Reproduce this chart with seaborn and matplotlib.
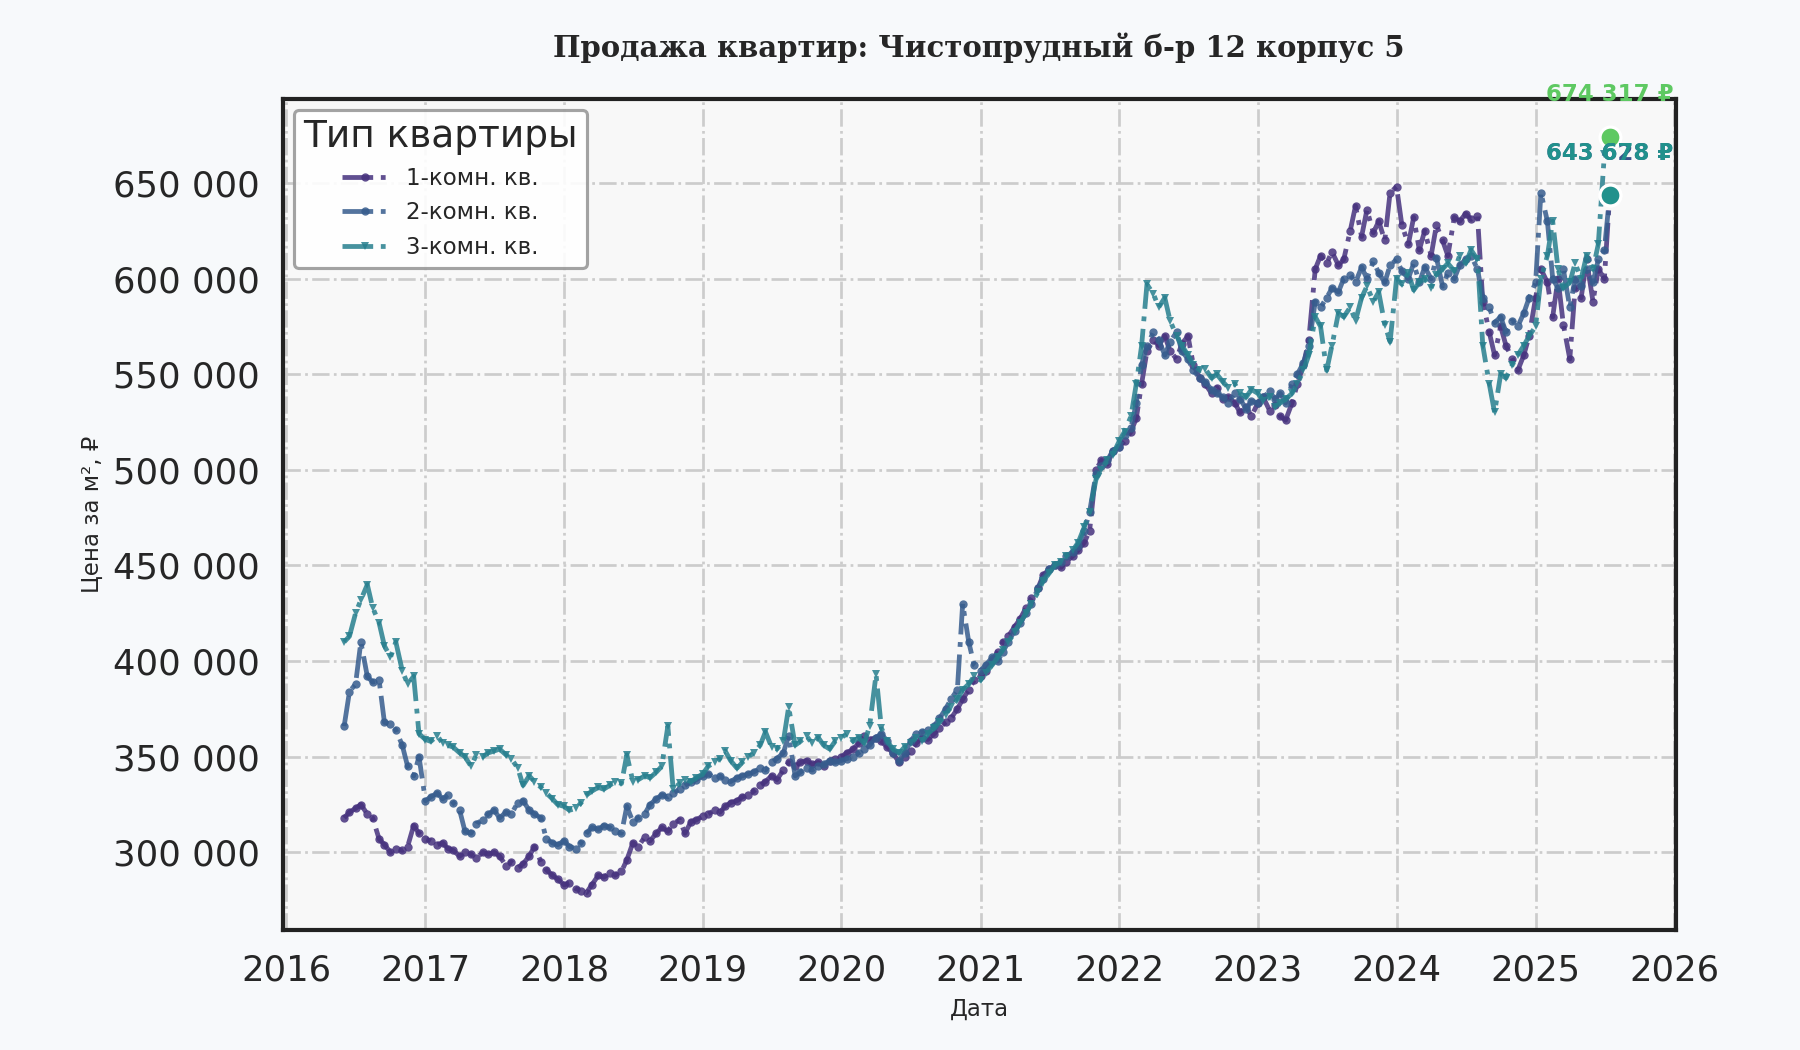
import numpy as np
import pandas as pd
import matplotlib.pyplot as plt
import matplotlib.dates as mdates
import matplotlib.ticker as mticker
import seaborn as sns

# semi-monthly observations (1st and 15th), Jun 2016 .. Jul 2025
dates = pd.date_range('2016-06-01', '2025-07-15', freq='SMS')

types = ['1-комн. кв.', '2-комн. кв.', '3-комн. кв.']

# price per m2, thousands of roubles
price_1room = [
    318, 321, 323, 325, 320, 318, 307, 304, 300, 302, 301, 303, 314, 310,
    307, 306, 304, 305, 302, 301, 298, 300, 299, 297, 300, 299,
    300, 298, 293, 295, 292, 294, 298, 303, 295, 291, 288, 286,
    283, 284, 281, 280, 279, 283, 288, 287, 289, 288, 290, 296,
    305, 303, 308, 306, 310, 313, 311, 315, 317, 310, 316, 317,
    319, 320, 322, 321, 324, 326, 327, 329, 330, 332, 335, 337,
    340, 338, 343, 347, 345, 347, 348, 346, 347, 345, 348, 349,
    350, 352, 354, 357, 361, 359, 360, 358, 355, 352, 347, 350,
    353, 357, 360, 359, 362, 365, 368, 370, 375, 380, 385, 390,
    392, 395, 400, 405, 410, 413, 418, 422, 428, 433, 438, 445,
    448, 450, 449, 452, 455, 458, 462, 468, 500, 505, 503, 510,
    512, 515, 520, 527, 545, 562, 568, 565, 570, 562, 558, 566,
    570, 555, 548, 545, 540, 543, 537, 538, 535, 530, 533, 528,
    535, 538, 531, 534, 528, 526, 535, 545, 555, 568, 605, 612,
    608, 614, 607, 610, 625, 638, 622, 636, 624, 630, 620, 645,
    648, 628, 618, 632, 615, 625, 612, 628, 620, 612, 632, 630,
    634, 631, 633, 588, 572, 560, 575, 565, 558, 552, 560, 570,
    590, 605, 598, 580, 600, 576, 558, 595, 590, 610, 588, 605, 600, 643.628,
]
price_2room = [
    366, 384, 388, 410, 392, 389, 390, 368, 367, 364, 356, 345, 340, 350,
    327, 329, 331, 328, 330, 326, 322, 311, 310, 315, 317, 320,
    322, 318, 321, 320, 326, 327, 322, 320, 318, 307, 305, 304,
    306, 303, 302, 305, 310, 313, 312, 314, 313, 311, 310, 324,
    316, 318, 320, 325, 328, 330, 329, 331, 333, 335, 337, 338,
    340, 341, 339, 340, 338, 337, 339, 340, 341, 342, 344, 343,
    347, 349, 352, 361, 340, 342, 344, 343, 345, 346, 348, 347,
    348, 349, 350, 352, 354, 356, 360, 362, 358, 352, 348, 352,
    358, 362, 363, 364, 366, 370, 375, 380, 385, 430, 410, 398,
    395, 398, 402, 400, 405, 410, 416, 420, 425, 430, 438, 443,
    448, 450, 452, 455, 457, 460, 468, 478, 498, 502, 505, 510,
    512, 518, 522, 535, 555, 565, 572, 568, 560, 567, 572, 562,
    558, 552, 548, 546, 542, 540, 538, 535, 540, 537, 532, 536,
    535, 538, 541, 537, 540, 535, 545, 550, 556, 565, 588, 585,
    590, 595, 593, 600, 602, 598, 606, 600, 609, 603, 598, 607,
    610, 604, 600, 608, 598, 606, 600, 611, 596, 603, 600, 607,
    610, 612, 605, 590, 585, 577, 580, 572, 578, 575, 582, 590,
    598, 645, 630, 600, 595, 605, 585, 600, 596, 605, 598, 610, 615, 643.678,
]
price_3room = [
    410, 413, 425, 432, 440, 428, 420, 408, 402, 410, 395, 388, 392, 362,
    359, 358, 361, 357, 356, 355, 352, 350, 345, 351, 350, 352,
    353, 354, 351, 349, 344, 335, 340, 337, 334, 331, 328, 325,
    324, 322, 323, 326, 330, 332, 334, 333, 335, 337, 336, 351,
    337, 338, 340, 339, 342, 345, 366, 333, 336, 338, 337, 339,
    341, 345, 347, 349, 353, 348, 344, 347, 350, 352, 356, 363,
    355, 354, 358, 376, 356, 358, 361, 357, 360, 356, 354, 358,
    360, 362, 358, 360, 357, 366, 393, 365, 358, 354, 352, 355,
    357, 360, 358, 362, 365, 368, 372, 376, 380, 385, 388, 392,
    390, 394, 398, 402, 406, 410, 415, 420, 425, 430, 436, 442,
    446, 450, 452, 455, 458, 462, 470, 478, 495, 500, 505, 508,
    515, 520, 528, 545, 565, 597, 592, 585, 590, 578, 570, 565,
    560, 555, 552, 553, 548, 550, 546, 543, 545, 540, 538, 542,
    540, 536, 538, 533, 535, 537, 540, 545, 552, 560, 580, 575,
    552, 565, 582, 580, 585, 578, 590, 596, 588, 593, 576, 567,
    600, 597, 603, 594, 598, 600, 595, 602, 605, 608, 604, 612,
    608, 615, 610, 565, 545, 530, 550, 548, 555, 560, 565, 570,
    575, 600, 612, 630, 605, 595, 598, 608, 600, 612, 605, 618, 665, 674.317,
]

df = pd.DataFrame({
    'Дата': np.tile(dates, 3),
    'Цена': np.concatenate([price_1room, price_2room, price_3room]) * 1000,
    'Тип': np.repeat(types, len(dates)),
})

sns.set_style('whitegrid')
plt.rcParams['font.family'] = ['DejaVu Sans']

line_colors = sns.color_palette('viridis', 6)[:3]
end_colors = sns.color_palette('viridis', 3)
markers = ['o', 'o', 'v']

fig, ax = plt.subplots(figsize=(12, 7), dpi=150)
fig.patch.set_facecolor('#f7f9fb')
ax.set_facecolor('#f8f8f8')

for t, c, m in zip(types, line_colors, markers):
    sub = df[df['Тип'] == t]
    sns.lineplot(data=sub, x='Дата', y='Цена', ax=ax, color=c, label=t,
                 linestyle='-.', linewidth=2.3, marker=m, markersize=4,
                 markeredgewidth=0, alpha=0.85)

# highlight last values
for t, c in zip(types, end_colors):
    sub = df[df['Тип'] == t]
    d, v = sub['Дата'].iloc[-1], sub['Цена'].iloc[-1]
    ax.scatter(d, v, s=100, color=c, edgecolor='white', linewidth=1.5, zorder=5)
    ax.annotate(f'{v:,.0f} ₽'.replace(',', ' '), xy=(d, v), xytext=(0, 20),
                textcoords='offset points', ha='center', va='center',
                fontsize=11, fontweight='bold', color=c, zorder=6)

ax.set_xlim(pd.Timestamp('2015-12-22'), pd.Timestamp('2026-01-05'))
ax.xaxis.set_major_locator(mdates.YearLocator())
ax.xaxis.set_major_formatter(mdates.DateFormatter('%Y'))
ax.yaxis.set_major_locator(mticker.MultipleLocator(50000))
ax.yaxis.set_major_formatter(mticker.FuncFormatter(lambda x, _: f'{x:,.0f}'.replace(',', ' ')))
ax.tick_params(axis='both', labelsize=17, length=0, pad=11)

ax.grid(True, linestyle='-.', color='#cccccc', linewidth=1.3)
for s in ax.spines.values():
    s.set_visible(True)
    s.set_color('#222222')
    s.set_linewidth(2)

ax.set_title('Продажа квартир: Чистопрудный б-р 12 корпус 5', family='DejaVu Serif',
             fontweight='bold', fontsize=14, pad=20)
ax.set_xlabel('Дата', fontsize=11, labelpad=5)
ax.set_ylabel('Цена за м², ₽', fontsize=11, labelpad=4)

leg = ax.legend(title='Тип квартиры', loc='upper left', fontsize=11, title_fontsize=18,
                frameon=True, facecolor='white', edgecolor='#999999', framealpha=0.9)
leg.get_frame().set_linewidth(1.5)

plt.subplots_adjust(left=0.157, right=0.931, top=0.906, bottom=0.114)
plt.savefig('out.png', facecolor=fig.get_facecolor())
